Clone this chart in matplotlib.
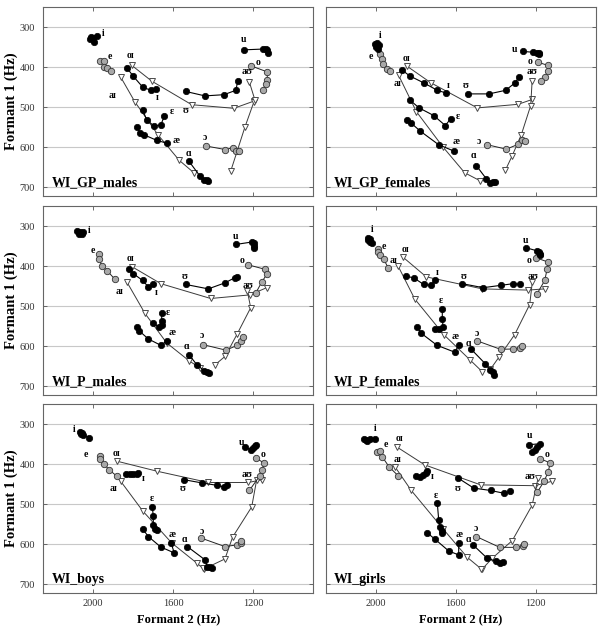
import matplotlib
matplotlib.use("Agg")
import matplotlib.pyplot as plt

plt.rcParams['font.family'] = ['Liberation Serif', 'DejaVu Serif']

# vowel categories
black_vowels = ['i', 'ɪ', 'ɛ', 'æ', 'ɑ', 'ʊ', 'u']
gray_vowels = ['e', 'o', 'ɔ']
diphthongs = ['oɪ', 'aʊ', 'aɪ']

# each vowel: ([F2 ...], [F1 ...])
gp_males = {
    'i': ([2012, 2003, 1995, 1983, 2017], [324, 327, 337, 322, 329]),
    'e': ([1967, 1948, 1947, 1930, 1910], [384, 384, 400, 403, 410]),
    'ɪ': ([1832, 1800, 1753, 1713, 1687], [402, 423, 450, 458, 456]),
    'ɛ': ([1753, 1733, 1697, 1663, 1645], [507, 532, 547, 545, 523]),
    'æ': ([1783, 1767, 1747, 1683, 1633], [549, 564, 569, 583, 590]),
    'ɑ': ([1522, 1467, 1447, 1433, 1425], [635, 672, 681, 683, 684]),
    'ʊ': ([1537, 1442, 1347, 1287, 1278], [461, 472, 469, 458, 435]),
    'u': ([1247, 1150, 1138, 1130, 1125], [357, 355, 356, 358, 364]),
    'o': ([1212, 1130, 1130, 1138, 1152], [397, 412, 432, 443, 458]),
    'ɔ': ([1438, 1340, 1300, 1288, 1273], [597, 606, 601, 609, 609]),
    'oɪ': ([1807, 1708, 1508, 1297, 1197], [396, 435, 494, 503, 485]),
    'aʊ': ([1313, 1242, 1197, 1192, 1220], [660, 550, 487, 482, 437]),
    'aɪ': ([1863, 1792, 1677, 1570, 1497], [425, 487, 569, 633, 664]),
}
gp_females = {
    'i': ([2003, 1993, 1985, 1997, 1988], [342, 340, 346, 350, 356]),
    'e': ([1980, 1968, 1963, 1943, 1927], [367, 379, 392, 404, 410]),
    'ɪ': ([1867, 1830, 1758, 1692, 1647], [408, 422, 440, 458, 465]),
    'ɛ': ([1830, 1783, 1710, 1652, 1625], [482, 502, 521, 546, 529]),
    'æ': ([1843, 1825, 1777, 1685, 1608], [533, 539, 560, 594, 610]),
    'ɑ': ([1497, 1447, 1427, 1413, 1405], [646, 679, 690, 688, 686]),
    'ʊ': ([1538, 1433, 1350, 1305, 1283], [467, 467, 458, 440, 425]),
    'u': ([1263, 1213, 1192, 1185, 1182], [361, 363, 365, 367, 365]),
    'o': ([1188, 1138, 1138, 1155, 1172], [388, 396, 410, 425, 436]),
    'ɔ': ([1442, 1347, 1288, 1267, 1252], [594, 605, 593, 582, 584]),
    'oɪ': ([1843, 1725, 1492, 1288, 1218], [398, 439, 502, 493, 481]),
    'aʊ': ([1352, 1318, 1272, 1225, 1218], [658, 622, 569, 496, 436]),
    'aɪ': ([1885, 1797, 1663, 1555, 1478], [421, 511, 600, 664, 684]),
}
p_males = {
    'i': ([2080, 2067, 2058, 2070, 2053], [312, 315, 319, 321, 315]),
    'e': ([1970, 1970, 1958, 1930, 1892], [371, 383, 400, 412, 433]),
    'ɪ': ([1822, 1800, 1753, 1725, 1700], [407, 419, 436, 452, 444]),
    'ɛ': ([1658, 1658, 1655, 1670, 1703], [518, 537, 548, 552, 543]),
    'æ': ([1783, 1770, 1725, 1662, 1633], [552, 562, 582, 598, 587]),
    'ɑ': ([1522, 1483, 1447, 1430, 1422], [621, 646, 661, 665, 667]),
    'ʊ': ([1537, 1425, 1342, 1292, 1280], [446, 457, 442, 429, 427]),
    'u': ([1287, 1208, 1197, 1195, 1197], [346, 340, 342, 350, 356]),
    'o': ([1225, 1142, 1133, 1158, 1187], [397, 408, 421, 440, 467]),
    'ɔ': ([1453, 1337, 1280, 1262, 1253], [596, 610, 598, 587, 577]),
    'oɪ': ([1805, 1662, 1413, 1217, 1133], [402, 444, 481, 472, 454]),
    'aʊ': ([1392, 1340, 1280, 1213, 1230], [647, 625, 569, 504, 462]),
    'aɪ': ([1833, 1742, 1633, 1520, 1467], [439, 518, 592, 637, 654]),
}
p_females = {
    'i': ([2038, 2030, 2027, 2017, 2037], [329, 333, 340, 343, 335]),
    'e': ([1988, 1988, 1980, 1960, 1938], [357, 365, 373, 383, 404]),
    'ɪ': ([1847, 1808, 1760, 1725, 1702], [425, 430, 446, 448, 436]),
    'ɛ': ([1667, 1667, 1663, 1683, 1705], [506, 532, 552, 557, 558]),
    'æ': ([1793, 1772, 1693, 1605, 1583], [552, 568, 598, 615, 596]),
    'ɑ': ([1522, 1452, 1427, 1413, 1408], [608, 644, 660, 665, 671]),
    'ʊ': ([1567, 1463, 1372, 1313, 1277], [444, 454, 448, 444, 446]),
    'u': ([1250, 1193, 1183, 1177, 1180], [354, 362, 365, 369, 372]),
    'o': ([1200, 1138, 1143, 1155, 1193], [379, 390, 408, 436, 469]),
    'ɔ': ([1492, 1375, 1313, 1280, 1267], [587, 608, 607, 604, 600]),
    'oɪ': ([1863, 1747, 1467, 1238, 1155], [378, 427, 457, 460, 457]),
    'aʊ': ([1427, 1383, 1305, 1230, 1217], [658, 627, 571, 496, 440]),
    'aɪ': ([1888, 1805, 1660, 1527, 1467], [400, 482, 571, 635, 664]),
}
boys = {
    'i': ([2067, 2058, 2050, 2022, 2063], [321, 322, 327, 334, 324]),
    'e': ([1967, 1967, 1947, 1922, 1880], [379, 387, 399, 414, 431]),
    'ɪ': ([1837, 1817, 1800, 1783, 1775], [425, 425, 425, 425, 422]),
    'ɛ': ([1705, 1700, 1700, 1692, 1683], [508, 529, 552, 563, 564]),
    'æ': ([1753, 1725, 1663, 1595, 1612], [562, 581, 607, 622, 596]),
    'ɑ': ([1530, 1442, 1430, 1417, 1408], [606, 639, 656, 658, 660]),
    'ʊ': ([1547, 1458, 1383, 1347, 1333], [439, 447, 453, 457, 453]),
    'u': ([1242, 1213, 1200, 1192, 1187], [358, 364, 360, 356, 352]),
    'o': ([1188, 1147, 1155, 1167, 1220], [385, 397, 414, 429, 466]),
    'ɔ': ([1460, 1342, 1283, 1263, 1262], [585, 606, 602, 598, 593]),
    'oɪ': ([1880, 1680, 1425, 1225, 1155], [393, 418, 446, 446, 439]),
    'aʊ': ([1447, 1342, 1303, 1208, 1183], [662, 637, 582, 507, 439]),
    'aɪ': ([1863, 1753, 1608, 1483, 1453], [443, 517, 597, 647, 660]),
}
girls = {
    'i': ([2058, 2050, 2042, 2030, 2005], [337, 339, 342, 337, 337]),
    'e': ([1992, 1980, 1967, 1933, 1888], [371, 368, 382, 407, 429]),
    'ɪ': ([1797, 1780, 1763, 1750, 1742], [431, 432, 427, 422, 417]),
    'ɛ': ([1692, 1685, 1677, 1667, 1667], [498, 539, 557, 566, 572]),
    'æ': ([1742, 1705, 1635, 1585, 1585], [572, 587, 617, 627, 597]),
    'ɑ': ([1513, 1443, 1397, 1380, 1363], [602, 635, 643, 647, 645]),
    'ʊ': ([1588, 1510, 1425, 1358, 1327], [435, 460, 466, 473, 468]),
    'u': ([1235, 1180, 1193, 1205, 1217], [352, 349, 357, 364, 371]),
    'o': ([1177, 1127, 1138, 1158, 1193], [387, 397, 420, 443, 471]),
    'ɔ': ([1497, 1380, 1297, 1263, 1258], [581, 608, 608, 604, 600]),
    'oɪ': ([1892, 1755, 1475, 1205, 1118], [358, 402, 452, 454, 443]),
    'aʊ': ([1467, 1417, 1317, 1218, 1188], [662, 635, 591, 503, 435]),
    'aɪ': ([1902, 1822, 1663, 1542, 1472], [408, 466, 562, 633, 662]),
}

# where the vowel symbols sit (F2, F1)
gp_males_lab = {'i': (1950, 317), 'e': (1917, 373), 'oɪ': (1813, 371), 'aɪ': (1903, 471),
                'ɪ': (1683, 477), 'ɛ': (1605, 512), 'æ': (1588, 583), 'ɑ': (1525, 617),
                'ʊ': (1538, 508), 'ɔ': (1442, 577), 'u': (1250, 332), 'o': (1178, 388),
                'aʊ': (1230, 412)}
gp_females_lab = {'i': (1980, 321), 'e': (2022, 373), 'oɪ': (1847, 379), 'aɪ': (1892, 442),
                  'ɪ': (1638, 446), 'ɛ': (1588, 523), 'æ': (1600, 586), 'ɑ': (1513, 622),
                  'ʊ': (1550, 446), 'ɔ': (1485, 585), 'u': (1305, 357), 'o': (1230, 386),
                  'aʊ': (1218, 412)}
p_males_lab = {'i': (2020, 312), 'e': (2003, 360), 'oɪ': (1813, 382), 'aɪ': (1870, 464),
               'ɪ': (1687, 467), 'ɛ': (1625, 515), 'æ': (1608, 567), 'ɑ': (1533, 600),
               'ʊ': (1545, 427), 'ɔ': (1458, 573), 'u': (1287, 325), 'o': (1258, 386),
               'aʊ': (1225, 448)}
p_females_lab = {'i': (2017, 308), 'e': (1958, 352), 'oɪ': (1850, 358), 'aɪ': (1910, 386),
                 'ɪ': (1692, 415), 'ɛ': (1672, 485), 'æ': (1605, 575), 'ɑ': (1538, 594),
                 'ʊ': (1563, 425), 'ɔ': (1493, 569), 'u': (1250, 335), 'o': (1233, 387),
                 'aʊ': (1213, 427)}
boys_lab = {'i': (2097, 314), 'e': (2037, 377), 'oɪ': (1883, 373), 'aɪ': (1900, 460),
            'ɪ': (1753, 435), 'ɛ': (1708, 485), 'æ': (1608, 577), 'ɑ': (1545, 589),
            'ʊ': (1553, 462), 'ɔ': (1458, 568), 'u': (1258, 346), 'o': (1150, 375),
            'aʊ': (1230, 427)}
girls_lab = {'i': (2005, 310), 'e': (1950, 352), 'oɪ': (1883, 337), 'aɪ': (1893, 389),
             'ɪ': (1717, 431), 'ɛ': (1697, 479), 'æ': (1585, 577), 'ɑ': (1535, 589),
             'ʊ': (1593, 462), 'ɔ': (1497, 560), 'u': (1230, 329), 'o': (1143, 377),
             'aʊ': (1230, 432)}

panels = [("WI_GP_males", gp_males, gp_males_lab),
          ("WI_GP_females", gp_females, gp_females_lab),
          ("WI_P_males", p_males, p_males_lab),
          ("WI_P_females", p_females, p_females_lab),
          ("WI_boys", boys, boys_lab),
          ("WI_girls", girls, girls_lab)]

xticks = [2000, 1600, 1200]
yticks = [300, 400, 500, 600, 700]

fig = plt.figure(figsize=(6.03, 6.35), dpi=100)
W, H = 603.0, 635.0
col_x = [43.3 / W, 325.7 / W]
row_y = [(H - 196) / H, (H - 395) / H, (H - 593) / H]
aw, ah = 270 / W, 189 / H

for k, (name, data, labs) in enumerate(panels):
    r, c = divmod(k, 2)
    ax = fig.add_axes([col_x[c], row_y[r], aw, ah])

    for v in diphthongs:
        f2, f1 = data[v]
        ax.plot(f2, f1, '-', color='#3a3a3a', lw=0.7, marker='v', ms=4.6,
                mfc='white', mec='#4a4a4a', mew=0.7, zorder=3)
    for v in gray_vowels:
        f2, f1 = data[v]
        ax.plot(f2, f1, '-', color='#222222', lw=0.7, marker='o', ms=4.6,
                mfc='#a8a8a8', mec='#333333', mew=0.6, zorder=4)
    for v in black_vowels:
        f2, f1 = data[v]
        ax.plot(f2, f1, '-', color='black', lw=0.8, marker='o', ms=4.6,
                mfc='black', mec='black', mew=0.5, zorder=5)

    for v, (lx, ly) in labs.items():
        ax.text(lx, ly, v, fontsize=7, fontweight='bold', ha='center', va='center',
                zorder=6)

    ax.text(0.03, 0.035, name, transform=ax.transAxes, fontsize=10,
            fontweight='bold', ha='left', va='bottom', zorder=7)

    ax.set_xlim(2250, 900)
    ax.set_ylim(722, 250)
    ax.set_xticks(xticks)
    ax.set_yticks(yticks)
    ax.yaxis.grid(True, color='#c8c8c8', lw=0.8)
    ax.set_axisbelow(True)
    ax.tick_params(direction='in', length=3, width=0.6, top=True, right=True,
                   colors='#555555', labelcolor='#333333', labelsize=7.5)
    ax.tick_params(axis='y', pad=6)
    ax.tick_params(axis='x', pad=4)
    for s in ax.spines.values():
        s.set_color('#666666')
        s.set_linewidth(0.8)

    if c == 0:
        ax.set_ylabel("Formant 1 (Hz)", fontsize=10.5, fontweight='bold')
        ax.yaxis.set_label_coords(-0.095, 0.5)
    else:
        ax.set_yticklabels([])
    if r == 2:
        ax.set_xlabel("Formant 2 (Hz)", fontsize=9, fontweight='bold', labelpad=5)
    else:
        ax.set_xticklabels([])

fig.savefig("out.png", dpi=100)
